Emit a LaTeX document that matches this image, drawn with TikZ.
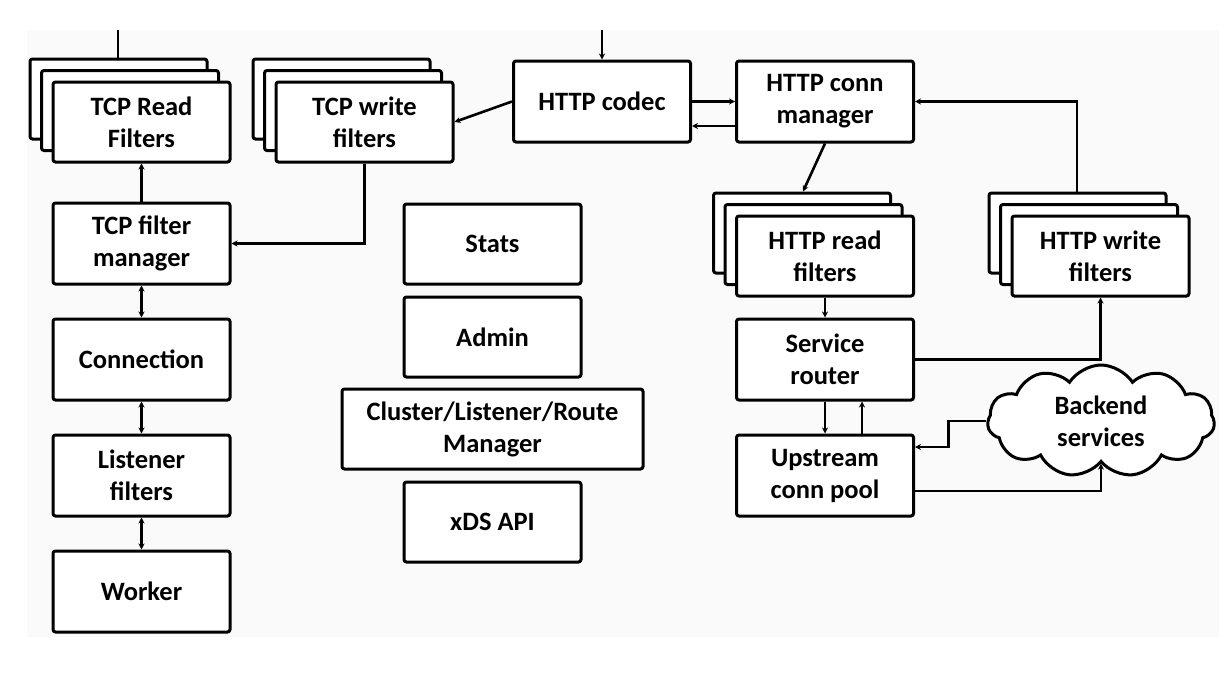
\documentclass[tikz,border=0pt]{standalone}
\usepackage{fontspec}
\setmainfont{Carlito}
\usetikzlibrary{arrows.meta,positioning,shadows,shapes.symbols}

\begin{document}
\begin{tikzpicture}[
  x=1pt, y=-1pt,
  node distance=32pt,
  box/.style={draw, line width=3pt, rounded corners=2.5pt, fill=white, align=center,
    minimum width=177pt, minimum height=81pt, inner sep=0pt,
    font=\fontsize{26.5}{32}\selectfont\bfseries},
  stack/.style={box, minimum height=80pt,
    copy shadow={shadow xshift=-23pt, shadow yshift=23pt},
    copy shadow={shadow xshift=-11.5pt, shadow yshift=11.5pt}},
  cloudbox/.style={cloud, draw, line width=3pt, fill=white, align=center,
    cloud puffs=11, cloud puff arc=115, aspect=2, inner sep=0pt,
    minimum width=227pt, minimum height=112pt,
    font=\fontsize{26.5}{32}\selectfont\bfseries},
  ln/.style={line width=2.6pt},
  arr/.style={ln, -{Stealth[length=6pt,width=6pt]}},
  barr/.style={ln, {Stealth[length=6pt,width=6pt]}-{Stealth[length=6pt,width=6pt]}}
]
\useasboundingbox (0,0) rectangle (1231,696);
\fill[black!2] (27,30) rectangle (1219,637);

% TCP side
\node[stack] (trf) at (141.5,122) {TCP Read\\Filters};
\node[stack] (twf) at (364.5,122) {TCP write\\filters};
\node[box, below=38pt of trf] (tfm) {TCP filter\\manager};
\node[box, below=of tfm] (conn) {Connection};
\node[box, below=of conn] (lsf) {Listener\\filters};
\node[box, below=of lsf] (wrk) {Worker};

% middle column
\node[box, minimum height=80pt] (stats) at (492.5,244) {Stats};
\node[box, minimum height=80pt, below=10pt of stats] (admin) {Admin};
\node[box, minimum height=80pt, minimum width=301pt, below=9pt of admin] (clm) {Cluster/Listener/Route\\Manager};
\node[box, minimum height=80pt, below=10pt of clm] (xds) {xDS API};

% HTTP side
\node[box] (codec) at (602,101.5) {HTTP codec};
\node[box] (hcm) at (825,101.5) {HTTP conn\\manager};
\node[stack] (hrf) at (825,256) {HTTP read\\filters};
\node[stack] (hwf) at (1100.5,256) {HTTP write\\filters};
\node[box, below=20pt of hrf] (srt) {Service\\router};
\node[box, below=of srt] (ucp) {Upstream\\conn pool};
\node[cloudbox] (bes) at (1101,421) {Backend\\services};

\coordinate (tcpin) at (118,30);
\coordinate (httpin) at (602,30);
\coordinate (trftop) at ([yshift=23pt]trf.north);

% connectors
\draw[ln] (tcpin) -- (tcpin |- trftop);
\draw[arr] (tfm) -- (trf);
\draw[barr] (tfm) -- (conn);
\draw[barr] (conn) -- (lsf);
\draw[barr] (lsf) -- (wrk);
\draw[arr] (twf.south) |- (tfm.east);
\draw[arr] (httpin) -- (codec.north);
\draw[arr] (codec.west) -- (twf.east);
\draw[arr] (codec.east) -- (hcm.west);
\draw[arr] ([yshift=-24.5pt]hcm.west) -- ([yshift=-24.5pt]codec.east);
\draw[arr] (hcm.south) -- ([xshift=-22pt,yshift=23pt]hrf.north);
\draw[arr] ([xshift=-23.5pt,yshift=23pt]hwf.north) |- (hcm.east);
\draw[arr] (hrf) -- (srt);
\draw[arr] (srt) -- (ucp);
\draw[arr] ([xshift=37pt]ucp.north) -- ([xshift=37pt]srt.south);
\draw[arr] (srt.east) -| (hwf.south);
\draw[arr] (bes.west) -- ++(-38,0) |- ([yshift=28.5pt]ucp.east);
\draw[arr] ([yshift=-15.5pt]ucp.east) -| (bes.south);
\end{tikzpicture}
\end{document}
